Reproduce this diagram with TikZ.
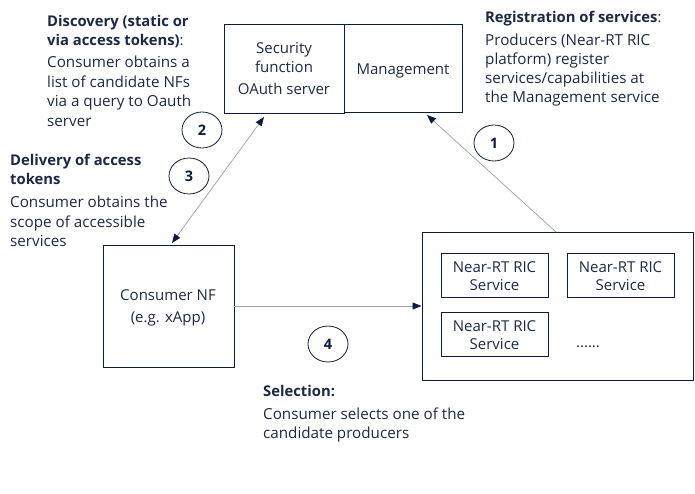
\documentclass[tikz,border=0pt]{standalone}
\usepackage{fontspec}
\setmainfont{Open Sans}
\usetikzlibrary{arrows.meta,shapes.geometric}
\definecolor{navy}{HTML}{0D1B3E}
\definecolor{txt}{HTML}{1E2846}
\definecolor{arr}{HTML}{9AA0AE}
\begin{document}
\begin{tikzpicture}[x=1pt,y=-1pt,
  box/.style={draw=navy,line width=1pt,inner sep=0pt},
  ln/.style={anchor=base west,inner sep=0pt,text=txt,font=\fontsize{15.2}{18}\selectfont},
  hd/.style={anchor=base west,inner sep=0pt,text=txt,font=\fontsize{14.8}{18}\selectfont\bfseries},
  ct/.style={anchor=base,inner sep=0pt,text=txt,font=\fontsize{15}{18}\selectfont},
  num/.style={draw=navy,line width=0.8pt,ellipse,minimum width=40pt,minimum height=36pt,inner sep=0pt,font=\fontsize{14.5}{16}\selectfont\bfseries,text=navy},
  con/.style={draw=arr,line width=0.7pt},
  tip/.style={-{Triangle[length=9pt,width=7pt,color=navy]}},
  tips/.style={{Triangle[length=9pt,width=7pt,color=navy]}-{Triangle[length=9pt,width=7pt,color=navy]}}
]
\useasboundingbox (0,0) rectangle (695,494);
% boxes
\draw[box] (224,25) rectangle (344,114);
\draw[box] (344,25) rectangle (462,113);
\coordinate (secb) at (264,117);
\coordinate (mgmtb) at (427,115);
\draw[box] (103,245) rectangle (234,367);
\coordinate (cont) at (172,243);
\coordinate (conr) at (234,306);
\draw[box] (422,232) rectangle (693,380);
\coordinate (prodt) at (556,232);
\coordinate (prodl) at (421.5,306);
\draw[box] (441,253) rectangle (548,297);
\draw[box] (567,253) rectangle (674,297);
\draw[box] (441,312) rectangle (548,356);
% box texts
\node[ct] (s1) at (284,54) {Security};
\node[ct] (s2) at (284,73) {function};
\node[ct] (s3) at (284,95) {OAuth server};
\node[ct] (m1) at (403,75) {Management};
\node[ct] (c1) at (168,300) {Consumer NF};
\node[ct] (c2) at (168,322) {(e.g. xApp)};
\node[ct] (n1a) at (494.5,272) {Near-RT RIC};
\node[ct] (n1b) at (494.5,290) {Service};
\node[ct] (n2a) at (620.5,272) {Near-RT RIC};
\node[ct] (n2b) at (620.5,290) {Service};
\node[ct] (n3a) at (494.5,331) {Near-RT RIC};
\node[ct] (n3b) at (494.5,349) {Service};
\node[ct] (dots) at (588,347) {......};
% connectors
\draw[con,tip] (prodt) -- (mgmtb);
\draw[con,tips] (secb) -- (cont);
\draw[con,tip] (conr) -- (prodl);
% numbers
\node[num] (k2) at (202,130) {2};
\node[num] (k3) at (189,176) {3};
\node[num] (k1) at (494,143) {1};
\node[num] (k4) at (328,344) {4};
% Discovery
\node[hd] (d1) at (47,27) {Discovery (static or};
\node[hd] (d2) at (47,45.5) {via access tokens)\mdseries:};
\node[ln] (d3) at (47,68) {Consumer obtains a};
\node[ln] (d4) at (47,87.5) {list of candidate NFs};
\node[ln] (d5) at (47,107) {via a query to Oauth};
\node[ln] (d6) at (47,126.5) {server};
% Delivery
\node[hd] (e1) at (10,166) {Delivery of access};
\node[hd] (e2) at (10,184.5) {tokens};
\node[ln] (e3) at (10,207.5) {Consumer obtains the};
\node[ln] (e4) at (10,227) {scope of accessible};
\node[ln] (e5) at (10,246.5) {services};
% Registration
\node[hd] (r1) at (485,22.5) {Registration of services\mdseries:};
\node[ln] (r2) at (485,46) {Producers (Near-RT RIC};
\node[ln] (r3) at (485,65) {platform) register};
\node[ln] (r4) at (485,84) {services/capabilities at};
\node[ln] (r5) at (485,103) {the Management service};
% Selection
\node[hd] (q1) at (263,396) {Selection:};
\node[ln] (q2) at (263,419) {Consumer selects one of the};
\node[ln] (q3) at (263,438.5) {candidate producers};
\end{tikzpicture}
\end{document}
